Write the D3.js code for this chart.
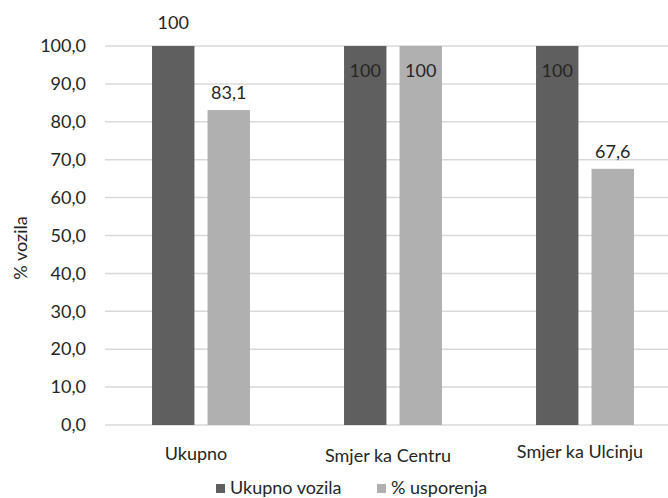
<!DOCTYPE html>
<html>
<head>
<meta charset="utf-8">
<script src="https://cdn.jsdelivr.net/npm/d3@7"></script>
<style>
  html, body { margin: 0; padding: 0; background: #fff; }
  svg { display: block; }
  text { font-family: Lato, "Open Sans", sans-serif; fill: #262626; }
</style>
</head>
<body>
<svg id="chart" width="668" height="498"></svg>
<script>
const categories = ["Ukupno", "Smjer ka Centru", "Smjer ka Ulcinju"];
const seriesNames = ["Ukupno vozila", "% usporenja"];
const ukupnoVozila = [100, 100, 100];
const usporenja = [83.1, 100, 67.6];
const valueLabels = [["100", "100", "100"], ["83,1", "100", "67,6"]];
const labelInside = [[false, true, true], [false, true, false]];
const yTicks = [0, 10, 20, 30, 40, 50, 60, 70, 80, 90, 100];
const colors = ["#5f5f5f", "#b0b0b0"];

const svg = d3.select("#chart");
const fs = 18;

const x0 = d3.scaleBand().domain(categories).range([105, 681]).paddingInner(0.49).paddingOuter(0.245);
const x1 = d3.scaleBand().domain(seriesNames).range([0, x0.bandwidth()]).paddingInner(0.236);
const y = d3.scaleLinear().domain([0, 100]).range([425, 46]);

// gridlines
svg.append("g").selectAll("line").data(yTicks).join("line")
  .attr("x1", 105).attr("x2", 668)
  .attr("y1", d => y(d)).attr("y2", d => y(d))
  .attr("stroke", "#d9d9d9").attr("stroke-width", 1.5);

// y axis labels
const yAxis = d3.axisLeft(y).tickValues(yTicks).tickSize(0).tickPadding(0)
  .tickFormat(d => d3.format(".1f")(d).replace(".", ","));
const gy = svg.append("g").attr("transform", "translate(86,0)").call(yAxis);
gy.select(".domain").remove();
gy.selectAll("text").attr("font-size", fs).attr("font-family", "Lato, 'Open Sans', sans-serif").attr("fill", "#262626");

// bars
const seriesData = [ukupnoVozila, usporenja];
const bars = [];
seriesData.forEach((vals, si) => {
  vals.forEach((v, ci) => bars.push({ si, ci, v, cat: categories[ci], s: seriesNames[si] }));
});

svg.append("g").selectAll("rect").data(bars).join("rect")
  .attr("x", d => x0(d.cat) + x1(d.s))
  .attr("width", x1.bandwidth())
  .attr("y", d => y(d.v))
  .attr("height", d => y(0) - y(d.v))
  .attr("fill", d => colors[d.si]);

// value labels
svg.append("g").selectAll("text").data(bars).join("text")
  .attr("x", d => x0(d.cat) + x1(d.s) + x1.bandwidth() / 2)
  .attr("y", d => labelInside[d.si][d.ci] ? y(d.v) + 31 : y(d.v) - (d.v >= 100 ? 17 : 11))
  .attr("text-anchor", "middle")
  .attr("font-size", fs)
  .text(d => valueLabels[d.si][d.ci]);

// x axis labels
svg.append("g").selectAll("text").data(categories).join("text")
  .attr("x", d => x0(d) + x0.bandwidth() / 2 - 5)
  .attr("y", (d, i) => 460 + (i === 1 ? 2 : i === 2 ? -2 : 0))
  .attr("text-anchor", "middle")
  .attr("font-size", fs)
  .text(d => d);

// y title
svg.append("text")
  .attr("transform", "translate(20,248) rotate(-90)")
  .attr("text-anchor", "middle")
  .attr("dominant-baseline", "central")
  .attr("font-size", fs)
  .text("% vozila");

// legend
const legendX = [216, 377];
const lg = svg.append("g").selectAll("g").data(seriesNames).join("g")
  .attr("transform", (d, i) => `translate(${legendX[i]},484)`);
lg.append("rect").attr("width", 9).attr("height", 9).attr("fill", (d, i) => colors[i]);
lg.append("text").attr("x", 14).attr("y", 10).attr("font-size", fs).text(d => d);
</script>
</body>
</html>
